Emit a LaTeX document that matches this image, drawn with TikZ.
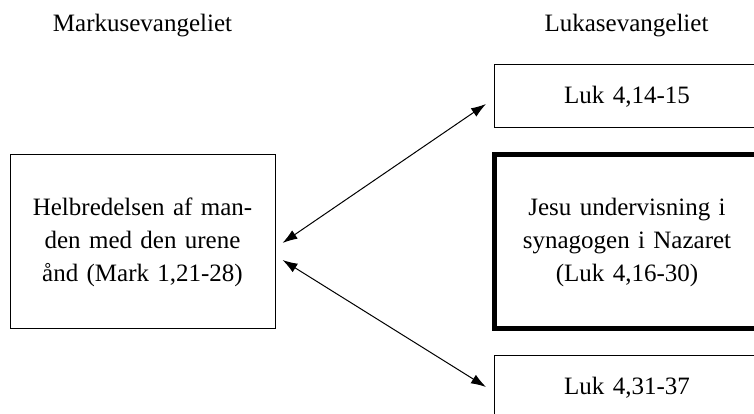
\documentclass[tikz,border=0pt]{standalone}
\usepackage{fontspec}
\setmainfont{Liberation Serif}
\usepackage{tikz}
\usetikzlibrary{arrows.meta}
\usetikzlibrary{positioning}
\tikzstyle{block} = [rectangle, draw, fill=white, minimum width=265pt,
text width=250pt, align=center, line width=1pt, inner sep=0pt]
\tikzstyle{head} = [anchor=base, inner sep=0pt]
\tikzstyle{line} = [draw, {Latex[length=15pt,width=10pt]}-{Latex[length=15pt,width=10pt]}, line width=1pt]

\begin{document}
\begin{tikzpicture}[x=1pt, y=1pt, font=\fontsize{25}{33}\selectfont]
\useasboundingbox (0,0) rectangle (754,414);
\clip (0,0) rectangle (754,414);
% Place nodes
	\node [head] at (142.5,382) (headM) {Markusevangeliet};
	\node [head] at (626.5,382) (headL) {Lukasevangeliet};
	\node [block, minimum height=174pt] at (142.5,172) (mark) {Helbredelsen af man-\\den med den urene\\ånd (Mark 1,21-28)};
	\node [block, minimum height=63pt] at (627,317.5) (luk1) {Luk 4,14-15};
	\node [block, minimum height=174pt, line width=5pt] at (627,172) (luk2) {Jesu undervisning i\\synagogen i Nazaret\\(Luk 4,16-30)};
	\node [block, minimum height=64pt] at (627,26) (luk3) {Luk 4,31-37};

% Draw edges
	\path [line] ([xshift=7pt,yshift=-1pt]mark.east) -- ([xshift=-8pt,yshift=-7.5pt]luk1.west);
	\path [line] ([xshift=7pt,yshift=-18pt]mark.east) -- ([xshift=-8pt,yshift=1pt]luk3.west);

\end{tikzpicture}
\end{document}
